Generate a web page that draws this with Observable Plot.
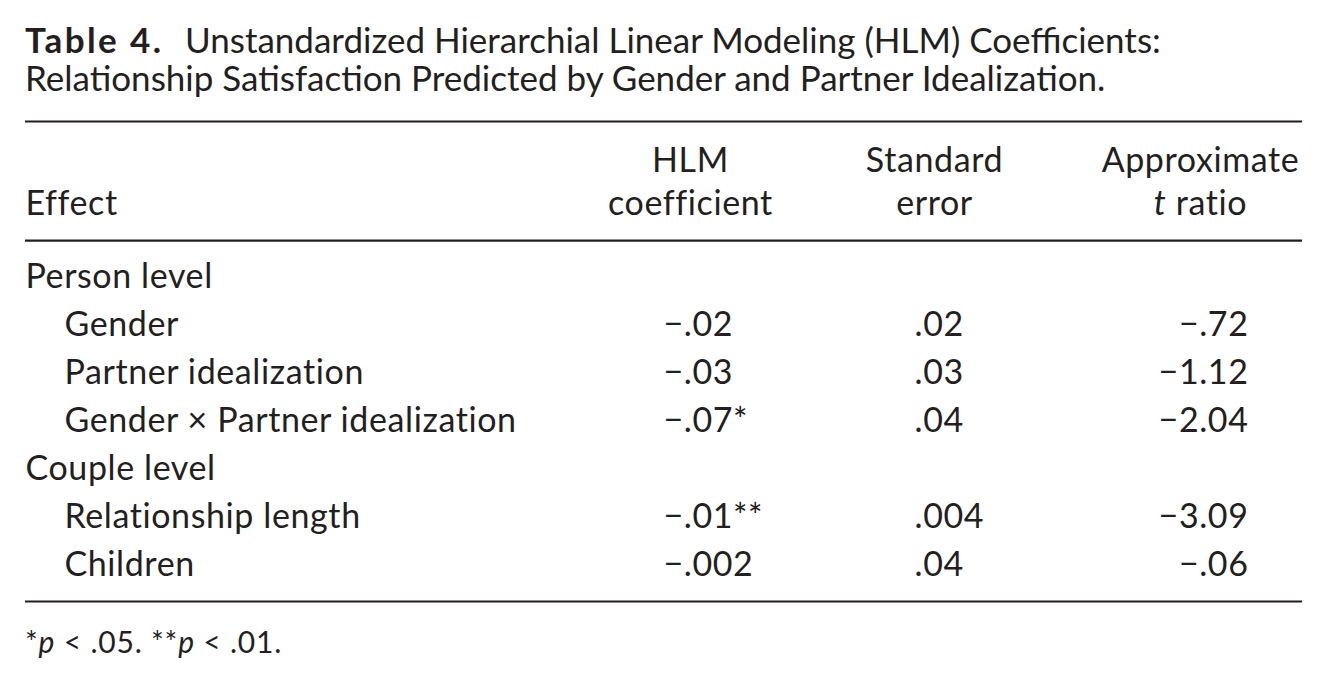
<!DOCTYPE html>
<html>
<head>
<meta charset="utf-8">
<script src="https://cdn.jsdelivr.net/npm/d3@7"></script>
<script src="https://cdn.jsdelivr.net/npm/@observablehq/plot@0.6"></script>
<style>
  body { margin: 0; background: #fff; color: #231f20; font-family: Lato, "Open Sans", sans-serif; }
  #title { box-sizing: border-box; height: 105px; padding: 19.5px 0 0 25px; font-size: 35px; line-height: 38px; white-space: nowrap; }
  #title b { display: inline-block; width: 160px; font-weight: 700; letter-spacing: 2.4px; }
  #note { box-sizing: border-box; padding: 8px 0 0 25px; font-size: 30px; line-height: 1.2; letter-spacing: 0.8px; }
  #chart svg { display: block; }
</style>
</head>
<body>
<div id="title"><b>Table 4.</b>Unstandardized Hierarchial Linear Modeling (HLM) Coefficients:<br>Relationship Satisfaction Predicted by Gender and Partner Idealization.</div>
<div id="chart"></div>
<div id="note">*<i>p</i> &lt; .05. **<i>p</i> &lt; .01.</div>
<script>
// ---- data ----
const effects = ["Person level", "Gender", "Partner idealization", "Gender × Partner idealization", "Couple level", "Relationship length", "Children"];
const isSubRow = [false, true, true, true, false, true, true];
const hlmCoef = ["", "−.02", "−.03", "−.07*", "", "−.01**", "−.002"];
const stdError = ["", ".02", ".03", ".04", "", ".004", ".04"];
const tRatio = ["", "−.72", "−1.12", "−2.04", "", "−3.09", "−.06"];
const headerTop = ["", "HLM", "Standard", "Approximate"];
const headerBottom = ["Effect", "coefficient", "error", "t ratio"];

// ---- layout (fractions of table width / row units) ----
const W = 1327, H = 510;
const tableLeft = 25, tableRight = 1302;
const rowPx = 48, firstRowPx = 172;           // centre of first body row, in SVG px
const colHeaderX = [0, 0.5207, 0.7118, 0.9201];
const colValueX = { effect: 0, sub: 0.0305, hlm: 0.4996, se: 0.6962, t: 0.9577 };
const headerRowY = [-2.42, -1.52];
const ruleRows = [-3.25, -0.77, 6.75];
const fs = 34;
const ink = "#231f20";

const rows = effects.map((e, i) => ({
  row: i, effect: e, sub: isSubRow[i], hlm: hlmCoef[i], se: stdError[i], t: tRatio[i]
}));
const header = headerBottom.map((b, j) => ({ col: j, top: headerTop[j], bottom: b }));

const plot = Plot.plot({
  width: W, height: H,
  marginTop: 0, marginBottom: 0, marginLeft: 0, marginRight: 0,
  x: { type: "linear", domain: [0, 1], range: [tableLeft, tableRight], axis: null },
  y: { type: "linear", domain: [-firstRowPx / rowPx, (H - firstRowPx) / rowPx], range: [0, H], axis: null },
  style: { fontFamily: "Lato, 'Open Sans', sans-serif", color: ink, background: "transparent", letterSpacing: "0.6px" },
  marks: [
    Plot.ruleY(ruleRows, { y: d => d, x1: 0, x2: 1, stroke: ink, strokeWidth: 2.2 }),
    // header
    Plot.text(header.filter(d => d.top), { x: d => colHeaderX[d.col], y: () => headerRowY[0], text: "top", textAnchor: "middle", fontSize: fs, fill: ink }),
    Plot.text(header.filter(d => d.col > 0), { x: d => colHeaderX[d.col], y: () => headerRowY[1], text: "bottom", textAnchor: "middle", fontSize: fs, fill: ink }),
    Plot.text(header.filter(d => d.col === 0), { x: d => colHeaderX[d.col], y: () => headerRowY[1], text: "bottom", textAnchor: "start", fontSize: fs, fill: ink }),
    // body
    Plot.text(rows, { x: d => d.sub ? colValueX.sub : colValueX.effect, y: "row", text: "effect", textAnchor: "start", fontSize: fs, fill: ink }),
    Plot.text(rows, { x: () => colValueX.hlm, y: "row", text: "hlm", textAnchor: "start", fontSize: fs, fill: ink }),
    Plot.text(rows, { x: () => colValueX.se, y: "row", text: "se", textAnchor: "start", fontSize: fs, fill: ink }),
    Plot.text(rows, { x: () => colValueX.t, y: "row", text: "t", textAnchor: "end", fontSize: fs, fill: ink })
  ]
});
document.getElementById("chart").appendChild(plot);

// italic "t" in the header
d3.select(plot).selectAll("text").each(function () {
  if (this.textContent === "t ratio") {
    const s = d3.select(this);
    s.text(null);
    s.append("tspan").attr("font-style", "italic").text("t");
    s.append("tspan").text(" ratio");
  }
});
</script>
</body>
</html>
